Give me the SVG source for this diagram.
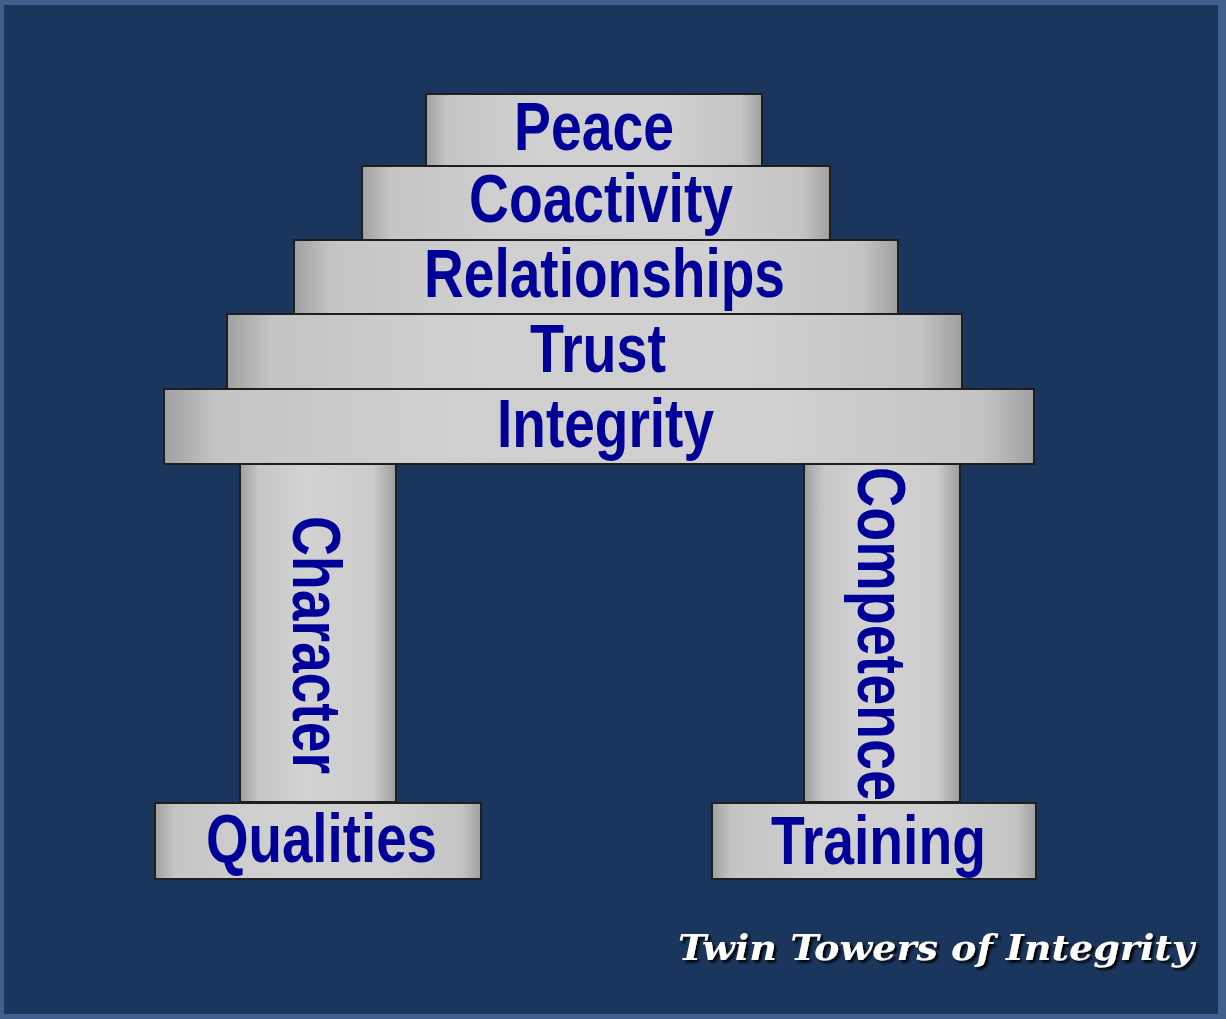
<svg xmlns="http://www.w3.org/2000/svg" width="1226" height="1019" viewBox="0 0 1226 1019">
<defs>
<linearGradient id="slab" x1="0" y1="0" x2="1" y2="0">
<stop offset="0" stop-color="#a0a0a0"/>
<stop offset="0.06" stop-color="#c4c4c4"/>
<stop offset="0.3" stop-color="#cfcfcf"/>
<stop offset="0.7" stop-color="#d0d0d0"/>
<stop offset="0.94" stop-color="#c4c4c4"/>
<stop offset="1" stop-color="#a0a0a0"/>
</linearGradient>
<linearGradient id="col" x1="0" y1="0" x2="1" y2="0">
<stop offset="0" stop-color="#9e9e9e"/>
<stop offset="0.12" stop-color="#c6c6c6"/>
<stop offset="0.4" stop-color="#d2d2d2"/>
<stop offset="0.85" stop-color="#cccccc"/>
<stop offset="1" stop-color="#9e9e9e"/>
</linearGradient>
<filter id="shadow" x="-5%" y="-30%" width="110%" height="160%">
<feDropShadow dx="2.5" dy="2.5" stdDeviation="1" flood-color="#000000" flood-opacity="1"/>
</filter>
<style>
.slab{fill:url(#slab);stroke:#1e1e1e;stroke-width:2}
.col{fill:url(#col);stroke:#1e1e1e;stroke-width:2}
.lbl{font-family:"Liberation Sans",Arial,sans-serif;font-weight:bold;fill:#000099;font-size:68px}
.title{font-family:"DejaVu Serif","Liberation Serif",serif;font-weight:bold;font-style:italic;font-size:36px;fill:#ffffff}
</style>
</defs>
<rect x="0" y="0" width="1226" height="1019" fill="#40608c"/>
<rect x="4" y="5" width="1214" height="1009" fill="#1b365d"/>

<g id="character">
<rect class="col" x="240" y="464" width="156" height="338"/>
<text class="lbl" transform="translate(293,516) rotate(90)" x="0" y="0" font-size="70" textLength="258" lengthAdjust="spacingAndGlyphs">Character</text>
</g>
<g id="competence">
<rect class="col" x="804" y="464" width="156" height="338"/>
<text class="lbl" transform="translate(858,467) rotate(90)" x="0" y="0" font-size="70" textLength="334" lengthAdjust="spacingAndGlyphs">Competence</text>
</g>
<g id="peace">
<rect class="slab" x="426" y="94" width="336" height="72"/>
<text class="lbl" x="514" y="150" font-size="64" textLength="160" lengthAdjust="spacingAndGlyphs">Peace</text>
</g>
<g id="coactivity">
<rect class="slab" x="362" y="166" width="468" height="74"/>
<text class="lbl" x="469" y="222" font-size="69" textLength="264" lengthAdjust="spacingAndGlyphs">Coactivity</text>
</g>
<g id="relationships">
<rect class="slab" x="294" y="240" width="604" height="74"/>
<text class="lbl" x="424" y="297" font-size="68" textLength="361" lengthAdjust="spacingAndGlyphs">Relationships</text>
</g>
<g id="trust">
<rect class="slab" x="227" y="314" width="735" height="75"/>
<text class="lbl" x="530" y="372" font-size="68" textLength="136" lengthAdjust="spacingAndGlyphs">Trust</text>
</g>
<g id="integrity">
<rect class="slab" x="164" y="389" width="870" height="75"/>
<text class="lbl" x="497" y="447" font-size="69" textLength="217" lengthAdjust="spacingAndGlyphs">Integrity</text>
</g>
<g id="qualities">
<rect class="slab" x="155" y="803" width="326" height="76"/>
<text class="lbl" x="206" y="862" font-size="68" textLength="231" lengthAdjust="spacingAndGlyphs">Qualities</text>
</g>
<g id="training">
<rect class="slab" x="712" y="803" width="324" height="76"/>
<text class="lbl" x="771" y="864" font-size="68" textLength="215" lengthAdjust="spacingAndGlyphs">Training</text>
</g>
<g id="connectors"></g>
<g id="title">
<text class="title" x="678" y="960" filter="url(#shadow)" textLength="516" lengthAdjust="spacingAndGlyphs">Twin Towers of Integrity</text>
</g>
</svg>
